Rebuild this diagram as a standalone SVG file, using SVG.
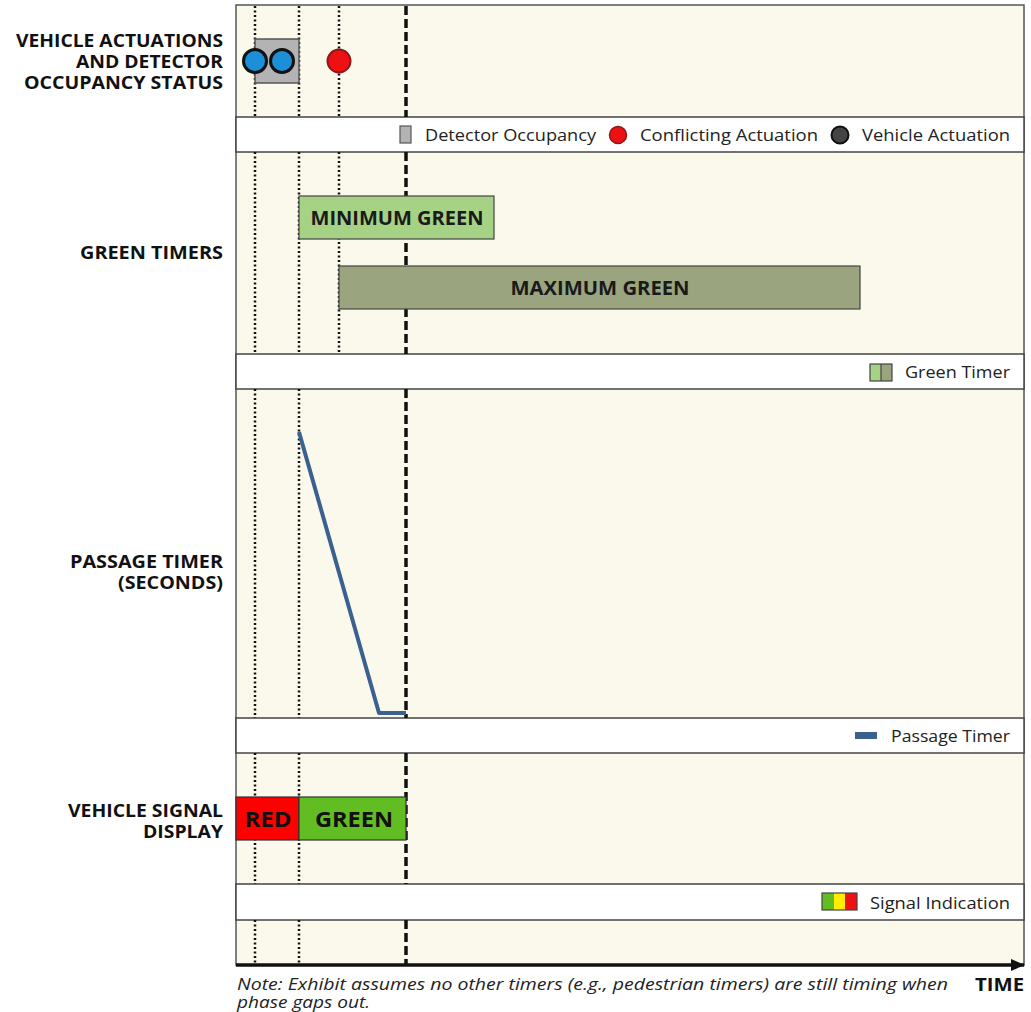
<svg xmlns="http://www.w3.org/2000/svg" width="1031" height="1012" viewBox="0 0 1031 1012">
<style>
.panel{fill:#fbf8ec;stroke:none}
.band{fill:#ffffff;stroke:#444;stroke-width:1.5}
.lbl{font-family:"Open Sans","Liberation Sans",sans-serif;font-weight:bold;font-size:18px;fill:#111;text-anchor:end}
.leg{font-family:"Open Sans","Liberation Sans",sans-serif;font-size:17px;fill:#222}
.bar{font-family:"Open Sans","Liberation Sans",sans-serif;font-weight:bold;font-size:20px;fill:#1a1a1a;text-anchor:middle}
.sig{font-family:"Open Sans","Liberation Sans",sans-serif;font-weight:bold;font-size:22px;fill:#111;text-anchor:middle}
.dot{stroke:#111;stroke-width:2.5;stroke-dasharray:2 2.5;fill:none}
.dash{stroke:#111;stroke-width:3.5;stroke-dasharray:9 4;fill:none}
.note{font-family:"Open Sans","Liberation Sans",sans-serif;font-style:italic;font-size:16.5px;fill:#222}
</style>
<defs>
<marker id="arr" markerWidth="14" markerHeight="14" refX="13" refY="7" orient="auto" markerUnits="userSpaceOnUse">
<path d="M0,1 L14,7 L0,13 Z" fill="#111"/>
</marker>
</defs>
<rect width="1031" height="1012" fill="#ffffff"/>
<g id="frame">
<rect class="panel" x="236" y="5" width="788" height="112"/>
<rect class="panel" x="236" y="152" width="788" height="202"/>
<rect class="panel" x="236" y="389" width="788" height="329"/>
<rect class="panel" x="236" y="753" width="788" height="131"/>
<rect class="panel" x="236" y="920" width="788" height="45"/>
<rect x="236" y="5" width="788" height="960" fill="none" stroke="#555" stroke-width="1.5"/>
<rect class="band" x="236" y="117" width="788" height="35"/>
<rect class="band" x="236" y="354" width="788" height="35"/>
<rect class="band" x="236" y="718" width="788" height="35"/>
<rect class="band" x="236" y="884" width="788" height="36"/>
</g>
<g id="connectors">
<g id="timelines">
<path class="dot" d="M255,6 V117 M255,152 V354 M255,389 V718 M255,753 V884 M255,920 V964"/>
<path class="dot" d="M299,6 V117 M299,152 V354 M299,389 V718 M299,753 V884 M299,920 V964"/>
<path class="dot" d="M339,6 V117 M339,152 V354"/>
<path class="dash" d="M406,6 V117 M406,152 V354 M406,389 V718 M406,753 V884 M406,920 V964"/>
</g>
<line id="time-axis" x1="236" y1="965" x2="1024" y2="965" stroke="#111" stroke-width="3.5" marker-end="url(#arr)"/>
</g>
<g id="row-labels">
<text class="lbl" x="223" y="47" textLength="207" lengthAdjust="spacingAndGlyphs">VEHICLE ACTUATIONS</text>
<text class="lbl" x="223" y="68" textLength="147" lengthAdjust="spacingAndGlyphs">AND DETECTOR</text>
<text class="lbl" x="223" y="89" textLength="199" lengthAdjust="spacingAndGlyphs">OCCUPANCY STATUS</text>
<text class="lbl" x="223" y="259" textLength="143" lengthAdjust="spacingAndGlyphs">GREEN TIMERS</text>
<text class="lbl" x="223" y="568" textLength="153" lengthAdjust="spacingAndGlyphs">PASSAGE TIMER</text>
<text class="lbl" x="223" y="589" textLength="105" lengthAdjust="spacingAndGlyphs">(SECONDS)</text>
<text class="lbl" x="223" y="817" textLength="155" lengthAdjust="spacingAndGlyphs">VEHICLE SIGNAL</text>
<text class="lbl" x="223" y="838" textLength="80" lengthAdjust="spacingAndGlyphs">DISPLAY</text>
</g>
<g id="detector-occupancy">
<rect x="255" y="39" width="44" height="44" fill="#b3b3b3" stroke="#555" stroke-width="1.5"/>
</g>
<g id="vehicle-actuation-1"><circle cx="255" cy="61" r="11.5" fill="#1c8fd8" stroke="#111" stroke-width="3"/></g>
<g id="vehicle-actuation-2"><circle cx="282" cy="61" r="11.5" fill="#1c8fd8" stroke="#111" stroke-width="3"/></g>
<g id="conflicting-actuation"><circle cx="339" cy="61" r="11.5" fill="#ee1111" stroke="#8a1a1a" stroke-width="2"/></g>
<g id="legend-1">
<rect x="400" y="126" width="11" height="17" fill="#b3b3b3" stroke="#555" stroke-width="1.2"/>
<text class="leg" x="425" y="141" textLength="171" lengthAdjust="spacingAndGlyphs">Detector Occupancy</text>
<circle cx="618" cy="135" r="8.5" fill="#ee1111" stroke="#8a1a1a" stroke-width="1.5"/>
<text class="leg" x="640" y="141" textLength="178" lengthAdjust="spacingAndGlyphs">Conflicting Actuation</text>
<circle cx="840" cy="135" r="8.5" fill="#444" stroke="#111" stroke-width="2"/>
<text class="leg" x="862" y="141" textLength="148" lengthAdjust="spacingAndGlyphs">Vehicle Actuation</text>
</g>
<g id="minimum-green">
<rect x="299" y="196" width="195" height="43" fill="#a6d286" stroke="#444" stroke-width="1.2"/>
<text class="bar" x="397" y="225" textLength="173" lengthAdjust="spacingAndGlyphs">MINIMUM GREEN</text>
</g>
<g id="maximum-green">
<rect x="339" y="266" width="521" height="43" fill="#9aa57f" stroke="#444" stroke-width="1.2"/>
<text class="bar" x="600" y="295" textLength="179" lengthAdjust="spacingAndGlyphs">MAXIMUM GREEN</text>
</g>
<g id="legend-2">
<rect x="870" y="364" width="11" height="17" fill="#a6d286"/>
<rect x="881" y="364" width="11" height="17" fill="#9aa57f"/>
<rect x="870" y="364" width="22" height="17" fill="none" stroke="#444" stroke-width="1.2"/>
<line x1="881" y1="364" x2="881" y2="381" stroke="#444" stroke-width="1.2"/>
<text class="leg" x="905" y="378" textLength="105" lengthAdjust="spacingAndGlyphs">Green Timer</text>
</g>
<g id="passage-timer">
<polyline points="299,432 379,713 406,713" fill="none" stroke="#3a6190" stroke-width="4" stroke-linejoin="round"/>
</g>
<g id="legend-3">
<rect x="855" y="732" width="22" height="7" fill="#3a6190"/>
<text class="leg" x="891" y="742" textLength="119" lengthAdjust="spacingAndGlyphs">Passage Timer</text>
</g>
<g id="signal-red">
<rect x="236" y="797" width="63" height="43" fill="#ff0000" stroke="#333" stroke-width="1.2"/>
<text class="sig" x="268" y="827" textLength="47" lengthAdjust="spacingAndGlyphs">RED</text>
</g>
<g id="signal-green">
<rect x="299" y="797" width="107" height="43" fill="#62bd22" stroke="#333" stroke-width="1.2"/>
<text class="sig" x="354" y="827" textLength="78" lengthAdjust="spacingAndGlyphs">GREEN</text>
</g>
<g id="legend-4">
<rect x="822" y="893" width="12" height="17" fill="#62bd22"/>
<rect x="834" y="893" width="11" height="17" fill="#ffee00"/>
<rect x="845" y="893" width="12" height="17" fill="#ee1111"/>
<rect x="822" y="893" width="35" height="17" fill="none" stroke="#444" stroke-width="1.2"/>
<text class="leg" x="870" y="909" textLength="140" lengthAdjust="spacingAndGlyphs">Signal Indication</text>
</g>
<g id="note">
<text class="note" x="237" y="990" textLength="711" lengthAdjust="spacingAndGlyphs">Note: Exhibit assumes no other timers (e.g., pedestrian timers) are still timing when</text>
<text class="note" x="237" y="1008" textLength="133" lengthAdjust="spacingAndGlyphs">phase gaps out.</text>
<text x="1024" y="991" text-anchor="end" textLength="49" lengthAdjust="spacingAndGlyphs" style="font-family:'Open Sans','Liberation Sans',sans-serif;font-weight:bold;font-size:18px;fill:#111">TIME</text>
</g>
</svg>
